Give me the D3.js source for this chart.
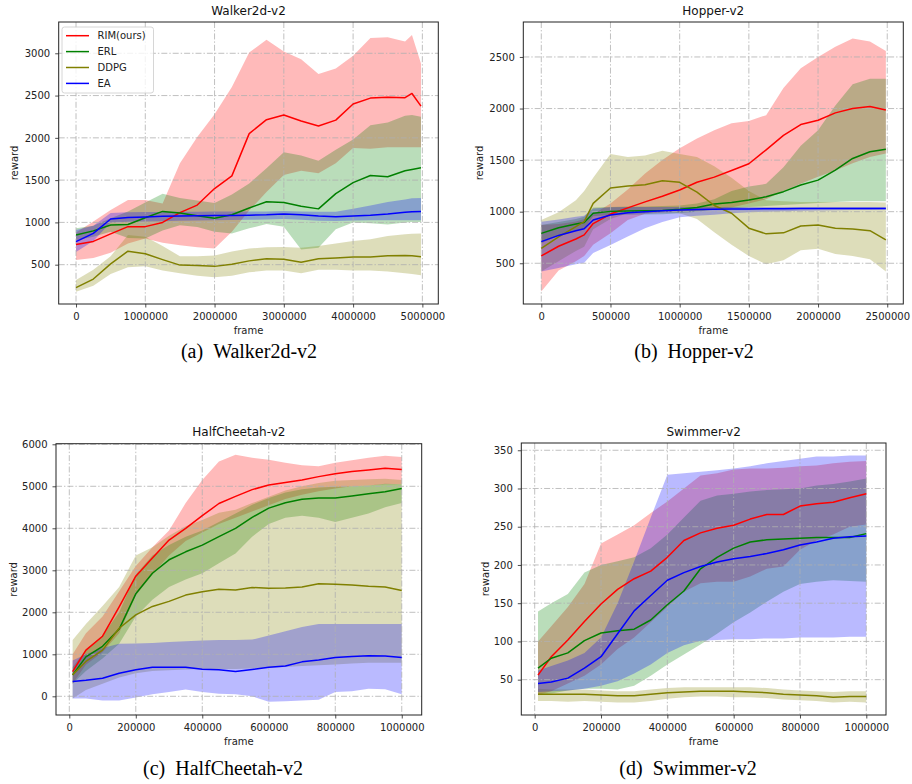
<!DOCTYPE html>
<html><head><meta charset="utf-8">
<script src="https://cdn.jsdelivr.net/npm/d3@7/dist/d3.min.js"></script>
<style>body{margin:0;background:#fff} svg{display:block}</style>
</head><body>
<svg id="chart" width="912" height="784"></svg>
<script>
// ---------------- DATA ----------------
const seriesNames = ["RIM(ours)", "ERL", "DDPG", "EA"];
const seriesColors = ["#ff0000", "#008000", "#808000", "#0000ff"];

// (a) Walker2d-v2
const walkerX = [0, 250000, 500000, 750000, 1000000, 1250000, 1500000, 1750000, 2000000, 2250000, 2500000, 2750000, 3000000, 3250000, 3500000, 3750000, 4000000, 4250000, 4500000, 4750000, 4850000, 4980000];
const walkerRIM   = [740, 775, 865, 950, 950, 1000, 1115, 1205, 1400, 1550, 2050, 2215, 2270, 2200, 2140, 2210, 2400, 2470, 2480, 2475, 2525, 2375];
const walkerRIMHi = [880, 1010, 1146, 1264, 1264, 1224, 1700, 2010, 2280, 2600, 3010, 3160, 3020, 2930, 2755, 2820, 2970, 3180, 3190, 3140, 3215, 2880];
const walkerRIMLo = [555, 580, 640, 750, 810, 760, 730, 705, 690, 890, 1140, 1360, 1560, 1610, 1580, 1700, 1880, 1870, 1890, 1890, 1890, 1890];
const walkerERL   = [850, 900, 970, 975, 1055, 1130, 1110, 1080, 1050, 1090, 1170, 1245, 1235, 1190, 1160, 1340, 1470, 1555, 1540, 1610, 1625, 1645];
const walkerERLHi = [930, 960, 1050, 1130, 1235, 1340, 1290, 1260, 1230, 1330, 1460, 1640, 1830, 1790, 1730, 1860, 1980, 2150, 2180, 2260, 2270, 2250];
const walkerERLLo = [790, 830, 890, 815, 811, 905, 965, 945, 890, 870, 930, 980, 950, 680, 700, 920, 1000, 990, 975, 1000, 1005, 1005];
const walkerDDPG   = [228, 330, 510, 660, 630, 560, 495, 490, 480, 505, 545, 570, 565, 530, 570, 580, 590, 590, 605, 610, 605, 595];
const walkerDDPGHi = [320, 440, 600, 850, 830, 720, 600, 600, 610, 655, 690, 705, 710, 700, 720, 750, 780, 800, 840, 860, 865, 870];
const walkerDDPGLo = [180, 250, 390, 470, 480, 430, 400, 370, 350, 370, 410, 430, 430, 400, 440, 440, 430, 430, 420, 400, 390, 375];
const walkerEA   = [772, 870, 1040, 1059, 1065, 1072, 1077, 1079, 1082, 1083, 1085, 1090, 1100, 1090, 1075, 1068, 1075, 1085, 1100, 1120, 1125, 1130];
const walkerEAHi = [909, 960, 1110, 1120, 1122, 1124, 1126, 1127, 1128, 1128, 1129, 1130, 1135, 1130, 1125, 1125, 1160, 1200, 1240, 1270, 1285, 1290];
const walkerEALo = [650, 780, 1000, 1008, 1010, 1015, 1020, 1022, 1025, 1028, 1030, 1035, 1040, 1030, 1020, 1018, 1022, 1024, 1025, 1025, 1025, 1025];

// (b) Hopper-v2
const hopperX = [0, 125000, 250000, 310000, 375000, 500000, 625000, 750000, 875000, 1000000, 1125000, 1250000, 1375000, 1500000, 1625000, 1750000, 1875000, 2000000, 2125000, 2250000, 2375000, 2490000];
const hopperRIM   = [571, 665, 735, 775, 885, 977, 1037, 1095, 1150, 1210, 1285, 1335, 1400, 1465, 1600, 1740, 1845, 1887, 1958, 2000, 2020, 1986];
const hopperRIMHi = [870, 880, 905, 930, 975, 1080, 1215, 1370, 1500, 1615, 1710, 1790, 1857, 1880, 1936, 2200, 2390, 2500, 2600, 2680, 2650, 2558];
const hopperRIMLo = [226, 430, 520, 570, 680, 790, 920, 980, 990, 1000, 1010, 1020, 1040, 1080, 1120, 1200, 1270, 1339, 1400, 1470, 1530, 1565];
const hopperERL   = [790, 845, 880, 895, 985, 1003, 1006, 1008, 1012, 1023, 1040, 1075, 1090, 1113, 1145, 1194, 1258, 1306, 1403, 1516, 1581, 1606];
const hopperERLHi = [870, 900, 930, 950, 1040, 1045, 1050, 1050, 1055, 1060, 1080, 1120, 1200, 1245, 1270, 1430, 1640, 1790, 2030, 2235, 2290, 2288];
const hopperERLLo = [694, 770, 815, 835, 955, 968, 970, 972, 975, 985, 1000, 1020, 1030, 1045, 1055, 1065, 1075, 1085, 1095, 1100, 1100, 1100];
const hopperDDPG   = [645, 755, 855, 903, 1080, 1230, 1248, 1261, 1300, 1285, 1190, 1060, 985, 840, 785, 795, 861, 871, 839, 832, 816, 726];
const hopperDDPGHi = [919, 995, 1110, 1200, 1330, 1560, 1530, 1545, 1590, 1560, 1530, 1440, 1330, 1200, 1110, 1100, 1095, 1095, 1095, 1095, 1095, 1090];
const hopperDDPGLo = [420, 520, 620, 660, 830, 930, 985, 990, 1000, 985, 930, 800, 680, 570, 490, 530, 625, 640, 590, 570, 540, 420];
const hopperEA   = [710, 770, 815, 835, 920, 968, 990, 1000, 1010, 1016, 1020, 1023, 1025, 1027, 1028, 1029, 1030, 1030, 1031, 1031, 1032, 1032];
const hopperEAHi = [903, 925, 950, 960, 1030, 1042, 1045, 1045, 1045, 1045, 1045, 1045, 1046, 1046, 1046, 1046, 1046, 1046, 1046, 1046, 1046, 1046];
const hopperEALo = [419, 455, 490, 505, 600, 677, 760, 840, 900, 945, 960, 970, 985, 995, 1000, 1005, 1010, 1012, 1015, 1016, 1017, 1018];

// (c) HalfCheetah-v2
const cheetahX = [10000, 50000, 100000, 150000, 200000, 250000, 300000, 350000, 400000, 450000, 500000, 550000, 600000, 650000, 700000, 750000, 800000, 850000, 900000, 950000, 1000000];
const cheetahRIM   = [590, 1100, 1430, 2130, 2860, 3290, 3720, 4000, 4300, 4590, 4760, 4920, 5030, 5090, 5150, 5230, 5300, 5350, 5390, 5430, 5400];
const cheetahRIMHi = [1000, 1500, 1900, 2500, 3100, 3550, 3950, 4600, 5150, 5590, 5750, 5680, 5630, 5560, 5500, 5480, 5560, 5620, 5680, 5730, 5700];
const cheetahRIMLo = [300, 750, 1050, 1500, 2400, 2900, 3350, 3700, 3900, 4100, 4250, 4400, 4550, 4700, 4800, 4880, 4950, 5000, 5020, 5050, 5050];
const cheetahERL   = [510, 940, 1190, 1600, 2440, 2930, 3250, 3440, 3600, 3800, 4000, 4260, 4480, 4610, 4690, 4720, 4720, 4770, 4820, 4870, 4950];
const cheetahERLHi = [700, 1100, 1450, 2000, 2900, 3350, 3600, 3800, 3950, 4150, 4350, 4560, 4720, 4850, 4930, 4970, 4990, 5000, 5020, 5060, 5050];
const cheetahERLLo = [300, 600, 900, 1250, 1900, 2300, 2600, 2780, 2930, 3170, 3400, 3800, 4100, 4250, 4300, 4250, 4150, 4250, 4350, 4500, 4600];
const cheetahDDPG   = [510, 830, 1100, 1620, 1940, 2140, 2260, 2410, 2490, 2550, 2530, 2590, 2570, 2580, 2600, 2680, 2670, 2650, 2620, 2600, 2520];
const cheetahDDPGHi = [1340, 1720, 2150, 2600, 3350, 3550, 3820, 4050, 4200, 4370, 4440, 4600, 4750, 4900, 5000, 5080, 5130, 5150, 5170, 5180, 5150];
const cheetahDDPGLo = [-50, 150, 300, 450, 550, 600, 620, 640, 650, 650, 650, 660, 680, 700, 720, 740, 760, 780, 800, 800, 800];
const cheetahEA   = [350, 380, 430, 550, 630, 690, 690, 690, 645, 630, 590, 640, 690, 720, 820, 865, 925, 945, 965, 960, 925];
const cheetahEAHi = [850, 1000, 1150, 1250, 1260, 1270, 1290, 1310, 1330, 1340, 1340, 1350, 1450, 1550, 1650, 1720, 1720, 1720, 1720, 1720, 1720];
const cheetahEALo = [-50, -50, -100, -100, -30, 50, 100, 160, 100, 60, 50, 0, -130, -120, -100, -80, 100, 120, 180, 170, 50];

// (d) Swimmer-v2
const swimmerX = [10000, 50000, 100000, 150000, 200000, 250000, 300000, 350000, 400000, 450000, 500000, 550000, 600000, 650000, 700000, 750000, 800000, 850000, 900000, 950000, 1000000];
const swimmerRIM   = [56, 80, 102, 126, 149, 168, 182, 192, 210, 232, 242, 248, 252, 260, 266, 266, 277, 280, 282, 288, 293];
const swimmerRIMHi = [100, 120, 145, 175, 228, 240, 252, 268, 283, 300, 317, 320, 325, 326, 326, 327, 329, 330, 333, 335, 336];
const swimmerRIMLo = [30, 35, 45, 55, 70, 90, 105, 125, 145, 165, 176, 178, 178, 185, 195, 198, 220, 232, 240, 250, 253];
const swimmerERL   = [65, 78, 85, 101, 111, 114, 116, 128, 148, 166, 195, 210, 222, 230, 233, 234, 235, 236, 236, 236, 241];
const swimmerERLHi = [139, 150, 162, 190, 200, 205, 210, 222, 240, 262, 284, 291, 293, 296, 298, 299, 300, 304, 306, 309, 313];
const swimmerERLLo = [30, 32, 36, 38, 38, 37, 42, 55, 70, 83, 96, 110, 125, 138, 152, 165, 175, 178, 180, 179, 178];
const swimmerDDPG   = [31, 31, 31, 31, 30, 29, 29, 31, 33, 34, 35, 35, 35, 34, 33, 31, 30, 29, 27, 28, 28];
const swimmerDDPGHi = [38, 37, 37, 37, 36, 35, 35, 37, 39, 40, 40, 40, 40, 40, 39, 37, 36, 35, 34, 35, 35];
const swimmerDDPGLo = [22, 22, 21, 22, 21, 20, 20, 22, 25, 27, 28, 28, 27, 27, 26, 24, 23, 22, 20, 21, 20];
const swimmerEA   = [45, 47, 52, 65, 80, 110, 140, 160, 180, 190, 198, 204, 208, 211, 215, 220, 226, 230, 235, 237, 238];
const swimmerEAHi = [62, 68, 75, 85, 105, 150, 205, 262, 318, 320, 322, 324, 326, 329, 333, 336, 339, 342, 342, 343, 343];
const swimmerEALo = [34, 35, 36, 38, 42, 48, 58, 70, 85, 95, 101, 102, 103, 103, 104, 104, 105, 105, 105, 106, 106];

// tick values
const walkerXTicks = [0, 1000000, 2000000, 3000000, 4000000, 5000000];
const walkerYTicks = [500, 1000, 1500, 2000, 2500, 3000];
const hopperXTicks = [0, 500000, 1000000, 1500000, 2000000, 2500000];
const hopperYTicks = [500, 1000, 1500, 2000, 2500];
const cheetahXTicks = [0, 200000, 400000, 600000, 800000, 1000000];
const cheetahYTicks = [0, 1000, 2000, 3000, 4000, 5000, 6000];
const swimmerXTicks = [0, 200000, 400000, 600000, 800000, 1000000];
const swimmerYTicks = [50, 100, 150, 200, 250, 300, 350];

// ---------------- LAYOUT ----------------
const panels = [
  { title: "Walker2d-v2", caption: "(a)\u2002Walker2d-v2", x: walkerX,
    series: [[walkerRIM, walkerRIMLo, walkerRIMHi], [walkerERL, walkerERLLo, walkerERLHi], [walkerDDPG, walkerDDPGLo, walkerDDPGHi], [walkerEA, walkerEALo, walkerEAHi]],
    box: {l: 58.7, r: 438.3, t: 22, b: 304}, xDom: [-250000, 5230000], yDom: [35, 3370],
    xTicks: walkerXTicks, yTicks: walkerYTicks, ylabX: 18, capX: 249, capY: 358, legend: true },
  { title: "Hopper-v2", caption: "(b)\u2002Hopper-v2", x: hopperX,
    series: [[hopperRIM, hopperRIMLo, hopperRIMHi], [hopperERL, hopperERLLo, hopperERLHi], [hopperDDPG, hopperDDPGLo, hopperDDPGHi], [hopperEA, hopperEALo, hopperEAHi]],
    box: {l: 523.3, r: 903.3, t: 22, b: 304}, xDom: [-130000, 2616000], yDom: [105, 2839],
    xTicks: hopperXTicks, yTicks: hopperYTicks, ylabX: 483, capX: 694, capY: 358, legend: false },
  { title: "HalfCheetah-v2", caption: "(c)\u2002HalfCheetah-v2", x: cheetahX,
    series: [[cheetahRIM, cheetahRIMLo, cheetahRIMHi], [cheetahERL, cheetahERLLo, cheetahERLHi], [cheetahDDPG, cheetahDDPGLo, cheetahDDPGHi], [cheetahEA, cheetahEALo, cheetahEAHi]],
    box: {l: 56, r: 421.7, t: 443.7, b: 715}, xDom: [-40000, 1060000], yDom: [-445, 6014],
    xTicks: cheetahXTicks, yTicks: cheetahYTicks, ylabX: 17, capX: 223, capY: 775, legend: false },
  { title: "Swimmer-v2", caption: "(d)\u2002Swimmer-v2", x: swimmerX,
    series: [[swimmerRIM, swimmerRIMLo, swimmerRIMHi], [swimmerERL, swimmerERLLo, swimmerERLHi], [swimmerDDPG, swimmerDDPGLo, swimmerDDPGHi], [swimmerEA, swimmerEALo, swimmerEAHi]],
    box: {l: 521.3, r: 886, t: 443, b: 715}, xDom: [-40400, 1059400], yDom: [3.8, 359.5],
    xTicks: swimmerXTicks, yTicks: swimmerYTicks, ylabX: 489, capX: 688, capY: 775, legend: false }
];

const svg = d3.select("#chart");
const FONT = "'DejaVu Sans', Verdana, sans-serif";

panels.forEach((p, pi) => {
  const B = p.box;
  const xs = d3.scaleLinear().domain(p.xDom).range([B.l, B.r]);
  const ys = d3.scaleLinear().domain(p.yDom).range([B.b, B.t]);
  const g = svg.append("g");

  const clipId = "clip" + pi;
  g.append("clipPath").attr("id", clipId).append("rect")
    .attr("x", B.l).attr("y", B.t).attr("width", B.r - B.l).attr("height", B.b - B.t);
  const plot = g.append("g").attr("clip-path", `url(#${clipId})`);

  // bands
  p.series.forEach((s, si) => {
    const [mean, lo, hi] = s;
    const area = d3.area()
      .x((d, i) => xs(p.x[i]))
      .y0((d, i) => ys(lo[i]))
      .y1((d, i) => ys(hi[i]));
    plot.append("path").datum(mean).attr("d", area)
      .attr("fill", seriesColors[si]).attr("fill-opacity", 0.27).attr("stroke", "none");
  });

  // grid
  const grid = plot.append("g").attr("stroke", "#b0b0b0").attr("stroke-width", 0.8)
    .attr("stroke-dasharray", "6,2,1.4,2");
  p.xTicks.forEach(t => grid.append("line").attr("x1", xs(t)).attr("x2", xs(t)).attr("y1", B.t).attr("y2", B.b));
  p.yTicks.forEach(t => grid.append("line").attr("y1", ys(t)).attr("y2", ys(t)).attr("x1", B.l).attr("x2", B.r));

  // mean lines
  p.series.forEach((s, si) => {
    const line = d3.line().x((d, i) => xs(p.x[i])).y(d => ys(d));
    plot.append("path").datum(s[0]).attr("d", line)
      .attr("fill", "none").attr("stroke", seriesColors[si]).attr("stroke-width", 1.5)
      .attr("stroke-linejoin", "round");
  });

  // axes
  const xAxis = d3.axisBottom(xs).tickValues(p.xTicks).tickFormat(d => String(d))
    .tickSize(3.5).tickPadding(5.5).tickSizeOuter(0);
  const yAxis = d3.axisLeft(ys).tickValues(p.yTicks).tickFormat(d => String(d))
    .tickSize(3.5).tickPadding(5).tickSizeOuter(0);
  const gx = g.append("g").attr("transform", `translate(0,${B.b})`).call(xAxis);
  const gy = g.append("g").attr("transform", `translate(${B.l},0)`).call(yAxis);
  [gx, gy].forEach(a => {
    a.select(".domain").remove();
    a.selectAll("text").attr("font-family", FONT).attr("font-size", 10).attr("fill", "#222");
    a.selectAll("line").attr("stroke", "#222").attr("stroke-width", 0.8);
  });

  // frame
  g.append("rect").attr("x", B.l).attr("y", B.t).attr("width", B.r - B.l).attr("height", B.b - B.t)
    .attr("fill", "none").attr("stroke", "#222").attr("stroke-width", 1);

  // title
  g.append("text").attr("x", (B.l + B.r) / 2).attr("y", B.t - 7.5)
    .attr("text-anchor", "middle").attr("font-family", FONT).attr("font-size", 12).attr("fill", "#111")
    .text(p.title);
  // x label
  g.append("text").attr("x", (B.l + B.r) / 2).attr("y", B.b + 30)
    .attr("text-anchor", "middle").attr("font-family", FONT).attr("font-size", 10).attr("fill", "#222")
    .text("frame");
  // y label
  g.append("text").attr("transform", `translate(${p.ylabX},${(B.t + B.b) / 2}) rotate(-90)`)
    .attr("text-anchor", "middle").attr("font-family", FONT).attr("font-size", 10).attr("fill", "#222")
    .text("reward");
  // caption
  g.append("text").attr("x", p.capX).attr("y", p.capY)
    .attr("text-anchor", "middle").attr("font-family", "'Liberation Serif', 'Times New Roman', serif")
    .attr("font-size", 20).attr("fill", "#000")
    .text(p.caption);

  // legend
  if (p.legend) {
    const lg = g.append("g");
    lg.append("rect").attr("x", 62).attr("y", 27).attr("width", 91.5).attr("height", 66).attr("rx", 2.5)
      .attr("fill", "#fff").attr("fill-opacity", 0.8).attr("stroke", "#cccccc").attr("stroke-width", 0.8);
    seriesNames.forEach((n, i) => {
      const yy = 35.7 + i * 15.9;
      lg.append("line").attr("x1", 66).attr("x2", 89).attr("y1", yy).attr("y2", yy)
        .attr("stroke", seriesColors[i]).attr("stroke-width", 1.5);
      lg.append("text").attr("x", 97.5).attr("y", yy + 3.6).attr("font-family", FONT).attr("font-size", 10)
        .attr("fill", "#222").text(n);
    });
  }
});
</script>
</body></html>
